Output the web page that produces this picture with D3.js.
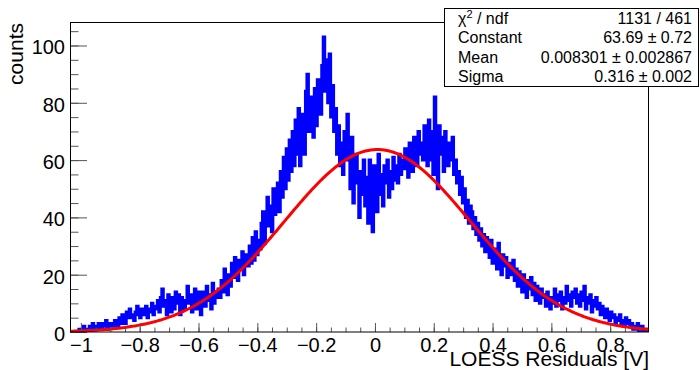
<!DOCTYPE html>
<html>
<head>
<meta charset="utf-8">
<script src="https://cdn.jsdelivr.net/npm/d3@7"></script>
<style>
  body { margin: 0; background: #fff; }
  text { font-family: "Liberation Sans", Arial, Helvetica, sans-serif; }
</style>
</head>
<body>
<div id="chart-area"></div>
<script>
// histogram range and bin contents
var xRange = [-1.037, 0.932];
var counts = [
  0,0,0,0,0,0,1,0,1,2,0,1,1,2,0,3,1,2,1,3,
  2,1,3,2,4,1,3,2,3,2,4,3,2,5,3,6,4,3,7,5,
  8,5,6,4,7,9,6,5,8,7,6,9,5,8,7,10,6,8,9,11,
  7,12,15,9,11,6,13,10,7,12,8,14,10,13,6,12,11,8,10,16,
  10,13,7,12,15,8,11,14,6,14,12,9,16,11,13,8,17,10,14,12,
  15,12,18,14,22,17,13,20,16,24,19,26,21,18,25,22,28,20,27,24,
  23,30,24,33,25,35,27,32,29,38,42,31,40,47,37,44,35,50,41,48,
  52,42,56,47,61,50,64,53,67,56,70,58,74,62,78,58,70,76,62,84,
  90,70,82,75,68,85,72,88,80,76,93,103,84,95,80,97,75,86,70,78,
  62,72,58,66,55,70,60,76,64,50,68,45,58,62,52,40,56,48,60,44,
  54,38,60,46,35,58,50,42,62,48,55,44,58,52,60,47,56,50,61,53,
  58,52,62,55,60,57,64,59,54,66,61,56,68,63,58,70,62,66,60,72,
  64,58,74,60,70,55,82,66,50,72,68,62,56,70,64,58,66,60,68,55,
  60,52,56,48,54,45,50,40,46,38,44,42,36,40,34,38,32,36,30,34,
  28,33,30,26,32,24,29,27,22,31,25,20,27,23,26,19,24,22,20,25,
  18,22,16,21,19,14,20,17,12,18,15,19,13,17,11,16,14,10,15,12,
  13,9,14,11,8,12,10,15,9,13,11,14,8,12,10,16,11,13,9,14,
  12,15,10,13,9,14,11,16,8,12,10,13,7,11,9,12,8,10,6,9,
  7,5,8,6,4,7,5,6,3,5,4,6,3,4,2,5,3,4,2,3,
  1,2,1,3,0,1,2,0,1,1,0
];

// gaus fit parameters from the stats box
var fitConstant = 63.69;
var fitMean = 0.008301;
var fitSigma = 0.316;

var xTicks = [-1, -0.8, -0.6, -0.4, -0.2, 0, 0.2, 0.4, 0.6, 0.8];
var xTickLabels = ["\u22121", "\u22120.8", "\u22120.6", "\u22120.4", "\u22120.2", "0", "0.2", "0.4", "0.6", "0.8"];
var yTicks = [0, 20, 40, 60, 80, 100];
var yMax = 108.2;

var statNames = ["ndf", "Constant", "Mean", "Sigma"];
var statValues = ["1131 / 461", "63.69 \u00b1 0.72", "0.008301 \u00b1 0.002867", "0.316 \u00b1 0.002"];

var margin = { left: 70, right: 51, top: 22, bottom: 38 };
var width = 700 - margin.left - margin.right;
var height = 370 - margin.top - margin.bottom;

var svg = d3.select("#chart-area")
  .append("svg")
  .attr("width", 700)
  .attr("height", 370);

var g = svg.append("g")
  .attr("transform", "translate(" + margin.left + "," + margin.top + ")");

var x = d3.scaleLinear().domain(xRange).range([0, width]);
var y = d3.scaleLinear().domain([0, yMax]).range([height, 0]);

g.append("clipPath").attr("id", "frame-clip")
  .append("rect").attr("width", width).attr("height", height);

// histogram as a step line
var binWidth = (xRange[1] - xRange[0]) / counts.length;
var steps = [];
counts.forEach((c, i) => {
  steps.push([xRange[0] + i * binWidth, c]);
  steps.push([xRange[0] + (i + 1) * binWidth, c]);
});

var line = d3.line()
  .x(d => x(d[0]))
  .y(d => y(d[1]));

g.append("path")
  .datum(steps)
  .attr("clip-path", "url(#frame-clip)")
  .attr("fill", "none")
  .attr("stroke", "#0000ff")
  .attr("stroke-width", 3)
  .attr("d", line);

// fitted gaussian
var fitPoints = d3.range(0, 401).map(i => {
  var v = xRange[0] + (xRange[1] - xRange[0]) * i / 400;
  return [v, fitConstant * Math.exp(-0.5 * Math.pow((v - fitMean) / fitSigma, 2))];
});

g.append("path")
  .datum(fitPoints)
  .attr("clip-path", "url(#frame-clip)")
  .attr("fill", "none")
  .attr("stroke", "#ff0000")
  .attr("stroke-width", 3)
  .attr("d", line);

// Axes (ticks point inward, like ROOT)
var xAxisCall = d3.axisBottom(x)
  .tickValues(xTicks)
  .tickFormat((d, i) => xTickLabels[i])
  .tickSizeInner(-9)
  .tickSizeOuter(0)
  .tickPadding(6);

var xMinorCall = d3.axisBottom(x)
  .tickValues(d3.range(-20, 19).map(k => k * 0.05).filter(v => v >= xRange[0] && v <= xRange[1]))
  .tickFormat("")
  .tickSizeInner(-4.5)
  .tickSizeOuter(0);

var yAxisCall = d3.axisLeft(y)
  .tickValues(yTicks)
  .tickSizeInner(-17)
  .tickSizeOuter(0)
  .tickPadding(5);

var yMinorCall = d3.axisLeft(y)
  .tickValues(d3.range(0, 22).map(k => k * 5))
  .tickFormat("")
  .tickSizeInner(-8.5)
  .tickSizeOuter(0);

var xg = g.append("g").attr("transform", "translate(0," + height + ")").call(xMinorCall);
var xg2 = g.append("g").attr("transform", "translate(0," + height + ")").call(xAxisCall);
var yg = g.append("g").call(yMinorCall);
var yg2 = g.append("g").call(yAxisCall);

[xg, xg2, yg, yg2].forEach(a => {
  a.select(".domain").remove();
  a.selectAll("line").attr("stroke", "#555");
});
xg2.selectAll("text").attr("font-size", "20px").attr("fill", "#000");
yg2.selectAll("text").attr("font-size", "20px").attr("fill", "#000").attr("dy", "0.42em");

// frame
g.append("rect")
  .attr("x", 0.5).attr("y", 0.5)
  .attr("width", width - 1).attr("height", height - 0.5)
  .attr("fill", "none")
  .attr("stroke", "#000");

// axis titles
g.append("text")
  .attr("x", width)
  .attr("y", height + 34)
  .attr("text-anchor", "end")
  .attr("font-size", "21px")
  .text("LOESS Residuals [V]");

svg.append("text")
  .attr("transform", "translate(23,23) rotate(-90)")
  .attr("text-anchor", "end")
  .attr("font-size", "21px")
  .text("counts");

// stats box
var box = svg.append("g");
box.append("rect")
  .attr("x", 444.5).attr("y", 8.5)
  .attr("width", 254).attr("height", 78)
  .attr("fill", "#fff")
  .attr("stroke", "#000");

var rowH = 78 / statNames.length;
statNames.forEach((name, i) => {
  var yy = 8.5 + rowH * (i + 0.5) + 5.7;
  var t = box.append("text")
    .attr("x", 458).attr("y", yy)
    .attr("font-size", "16px");
  if (i === 0) {
    t.append("tspan").text("\u03c7");
    t.append("tspan").attr("font-size", "11px").attr("dy", "-6").text("2");
    t.append("tspan").attr("dy", "6").text(" / " + name);
  } else {
    t.text(name);
  }
  box.append("text")
    .attr("x", 692).attr("y", yy)
    .attr("text-anchor", "end")
    .attr("font-size", "16px")
    .text(statValues[i]);
});
</script>
</body>
</html>
